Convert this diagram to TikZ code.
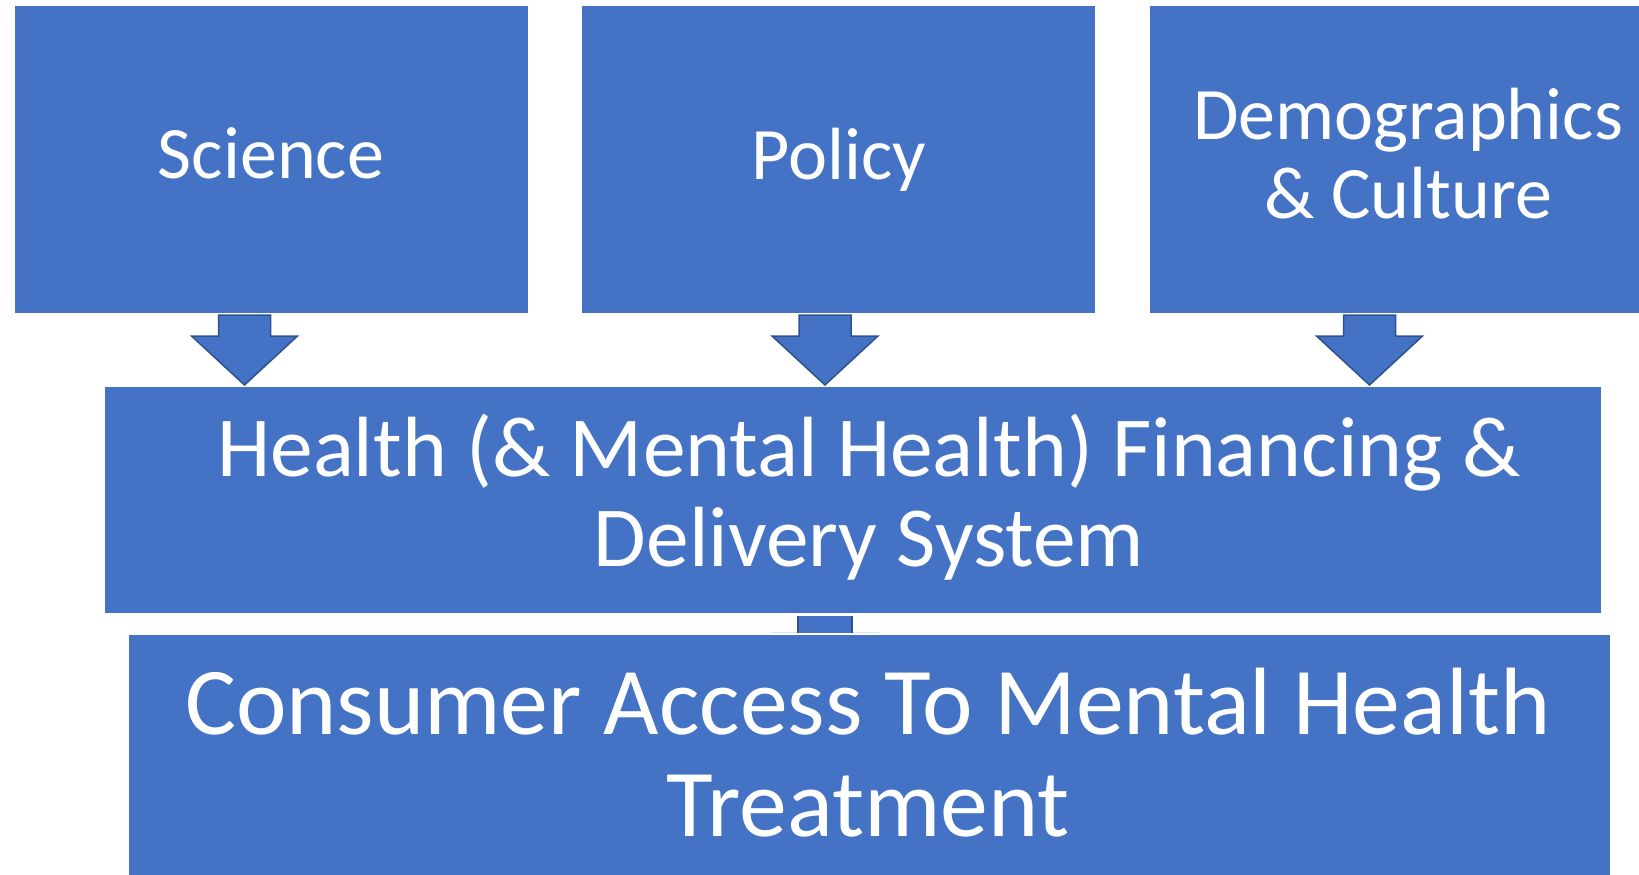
\documentclass[tikz,border=0pt]{standalone}
\usepackage{fontspec}
\setmainfont{Carlito}
\definecolor{boxblue}{HTML}{4472C4}
\definecolor{edgeblue}{HTML}{2F528F}
\tikzset{
  bluebox/.style={fill=boxblue, draw=none, inner sep=0pt, rectangle},
  toptext/.style={text=white, anchor=base, inner sep=0pt, font=\fontsize{74}{82}\selectfont},
  midtext/.style={text=white, anchor=base, inner sep=0pt, font=\fontsize{85.5}{92}\selectfont},
  bottext/.style={text=white, anchor=base, inner sep=0pt, font=\fontsize{95.7}{102}\selectfont},
  arrowshape/.style={fill=boxblue, draw=edgeblue, line width=1.5pt, line join=miter},
  pics/downarrow/.style={code={
    \path[arrowshape] (-26,0) -- (26,0) -- (26,21) -- (53,21) -- (0,70) -- (-53,21) -- (-26,21) -- cycle;
  }}
}
\begin{document}
\begin{tikzpicture}[x=1pt,y=-1pt]
\useasboundingbox (0,0) rectangle (1639,875);
% boxes
\node[bluebox, minimum width=513pt, minimum height=307pt] (sci) at (271.5,159.5) {};
\node[bluebox, minimum width=513pt, minimum height=307pt] (pol) at (838.5,159.5) {};
\node[bluebox, minimum width=495pt, minimum height=307pt] (dem) at (1397.5,159.5) {};
\node[bluebox, minimum width=1496pt, minimum height=226pt] (hea) at (853,500) {};
\node[bluebox, minimum width=1481pt, minimum height=245pt] (con) at (869.5,757.5) {};
% texts
\node[toptext] (scit) at (271,178) {Science};
\node[toptext] (polt) at (839,179) {Policy};
\node[toptext] (demt1) at (1408,139) {Demographics};
\node[toptext] (demt2) at (1408,218) {\& Culture};
\node[midtext] (heat1) at (869,476) {Health (\& Mental Health) Financing \&};
\node[midtext] (heat2) at (869,566) {Delivery System};
\node[bottext] (cont1) at (868,734) {Consumer Access To Mental Health};
\node[bottext] (cont2) at (868,836) {Treatment};
% block arrows
\pic (a1) at (244.5,315) {downarrow};
\pic (a2) at (825,315) {downarrow};
\pic (a3) at (1369.5,315) {downarrow};
% small link between health and consumer boxes
\draw[boxblue!20, line width=1pt] (771,632.5) -- (879,632.5);
\node[bluebox, minimum width=54pt, minimum height=17pt] (link) at (825,624.5) {};
\draw[edgeblue, line width=1.5pt] (link.north west) -- (link.south west);
\draw[edgeblue, line width=1.5pt] (link.north east) -- (link.south east);
\end{tikzpicture}
\end{document}
